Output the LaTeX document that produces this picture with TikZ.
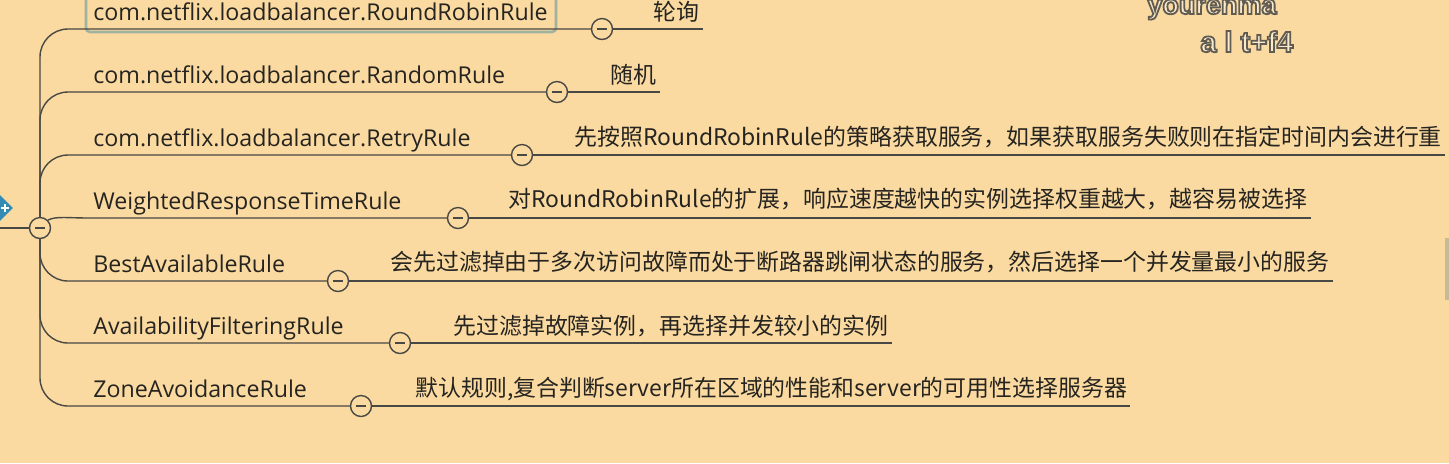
\documentclass[tikz,border=0pt]{standalone}
\usepackage{fontspec}
\setmainfont{Open Sans}
\newfontfamily\cjk{Noto Sans CJK SC}
\newfontfamily\wmfont{Liberation Sans}
\usetikzlibrary{shapes.geometric,calc}
\definecolor{bg}{RGB}{250,218,160}
\definecolor{ln}{RGB}{72,72,68}
\definecolor{txt}{RGB}{38,36,32}
\definecolor{selc}{RGB}{160,178,160}
\definecolor{wmfill}{RGB}{250,234,205}
\definecolor{topicblue}{RGB}{52,140,180}
\definecolor{scrollc}{RGB}{200,186,150}
\newcommand{\outlinedtext}[1]{\special{pdf:literal direct 2 Tr 0.9 w 0.38 0.36 0.32 RG}#1\special{pdf:literal direct 0 Tr}}
\tikzset{
  lbl/.style={anchor=base west, inner sep=0pt, text=txt, font=\fontsize{11.6}{13}\selectfont},
  desc/.style={anchor=base west, inner sep=0pt, text=txt, font=\cjk\fontsize{11.45}{13}\selectfont},
  conn/.style={draw=ln, line width=0.7pt},
  tog/.style={circle, draw=ln, line width=0.7pt, fill=bg, minimum size=10.5pt, inner sep=0pt,
    path picture={\draw[ln, line width=0.7pt] ([xshift=-2.6pt]path picture bounding box.center) -- ([xshift=2.6pt]path picture bounding box.center);}},
  wm/.style={anchor=base west, inner sep=0pt, text=wmfill, font=\wmfont\bfseries\fontsize{13.5}{15}\selectfont},
  wmb/.style={anchor=base west, inner sep=0pt, text=wmfill, font=\wmfont\bfseries\fontsize{14.5}{16}\selectfont}
}
\begin{document}
\begin{tikzpicture}[x=0.5pt,y=-0.5pt]
\fill[bg] (0,0) rectangle (1449,463);
\useasboundingbox (0,0) rectangle (1449,463);

% selection box around first topic
\draw[selc, line width=1.3pt, rounded corners=2pt] (86,-4) rectangle (556,32);

% central topic (partly off picture) and root toggle
\node[diamond, fill=topicblue, minimum width=15pt, minimum height=15pt, inner sep=0pt] (topic) at (-2,208) {};
\draw[white, line width=1.1pt] (1,208) -- (9,208) (5,204) -- (5,212);
\node[tog] (root) at (40,228) {};
\draw[conn] (0,228) -- (root.west);

% branch toggles
\node[tog] (c1) at (602,29) {};
\node[tog] (c2) at (557,92) {};
\node[tog] (c3) at (522,155) {};
\node[tog] (c4) at (458,218) {};
\node[tog] (c5) at (338,281) {};
\node[tog] (c6) at (400,343) {};
\node[tog] (c7) at (361,406) {};

% branch labels
\node[lbl] (l1) at (93,20) {com.netflix.loadbalancer.RoundRobinRule};
\node[lbl] (l2) at (93,83) {com.netflix.loadbalancer.RandomRule};
\node[lbl] (l3) at (93,146) {com.netflix.loadbalancer.RetryRule};
\node[lbl] (l4) at (93,209) {WeightedResponseTimeRule};
\node[lbl] (l5) at (93,272) {BestAvailableRule};
\node[lbl] (l6) at (93,334) {AvailabilityFilteringRule};
\node[lbl] (l7) at (93,397) {ZoneAvoidanceRule};

% descriptions
\node[desc] (d1) at (653,20) {轮询};
\node[desc] (d2) at (610,83) {随机};
\node[desc] (d3) at (574,145) {先按照RoundRobinRule的策略获取服务，如果获取服务失败则在指定时间内会进行重};
\node[desc] (d4) at (508,207) {对RoundRobinRule的扩展，响应速度越快的实例选择权重越大，越容易被选择};
\node[desc] (d5) at (390,270) {会先过滤掉由于多次访问故障而处于断路器跳闸状态的服务，然后选择一个并发量最小的服务};
\node[desc] (d6) at (453,334) {先过滤掉故障实例，再选择并发较小的实例};
\node[desc] (d7) at (415,396) {默认规则,复合判断server所在区域的性能和server的可用性选择服务器};

% connectors from root to branches
\draw[conn, rounded corners=14pt] (root.north) |- (c1.west);
\draw[conn, rounded corners=14pt] (root.north) |- (c2.west);
\draw[conn, rounded corners=14pt] (root.north) |- (c3.west);
\draw[conn] (root.north east) .. controls (56,216) and (66,218) .. (90,218) -- (c4.west);
\draw[conn, rounded corners=14pt] (root.south) |- (c5.west);
\draw[conn, rounded corners=14pt] (root.south) |- (c6.west);
\draw[conn, rounded corners=14pt] (root.south) |- (c7.west);

% description underlines
\foreach \i in {1,...,7} {
  \draw[conn] (c\i.east) -- ($(c\i -| d\i.east)+(3,0)$);
}

% watermark
\node[wm] (wm1) at (1147,14) {\outlinedtext{yourenma}};
\node[wmb] (wm2) at (1200,52) {\outlinedtext{a l t+f4}};

% scrollbar hint at right edge
\fill[scrollc] (1445,238) rectangle (1449,300);
\end{tikzpicture}
\end{document}
